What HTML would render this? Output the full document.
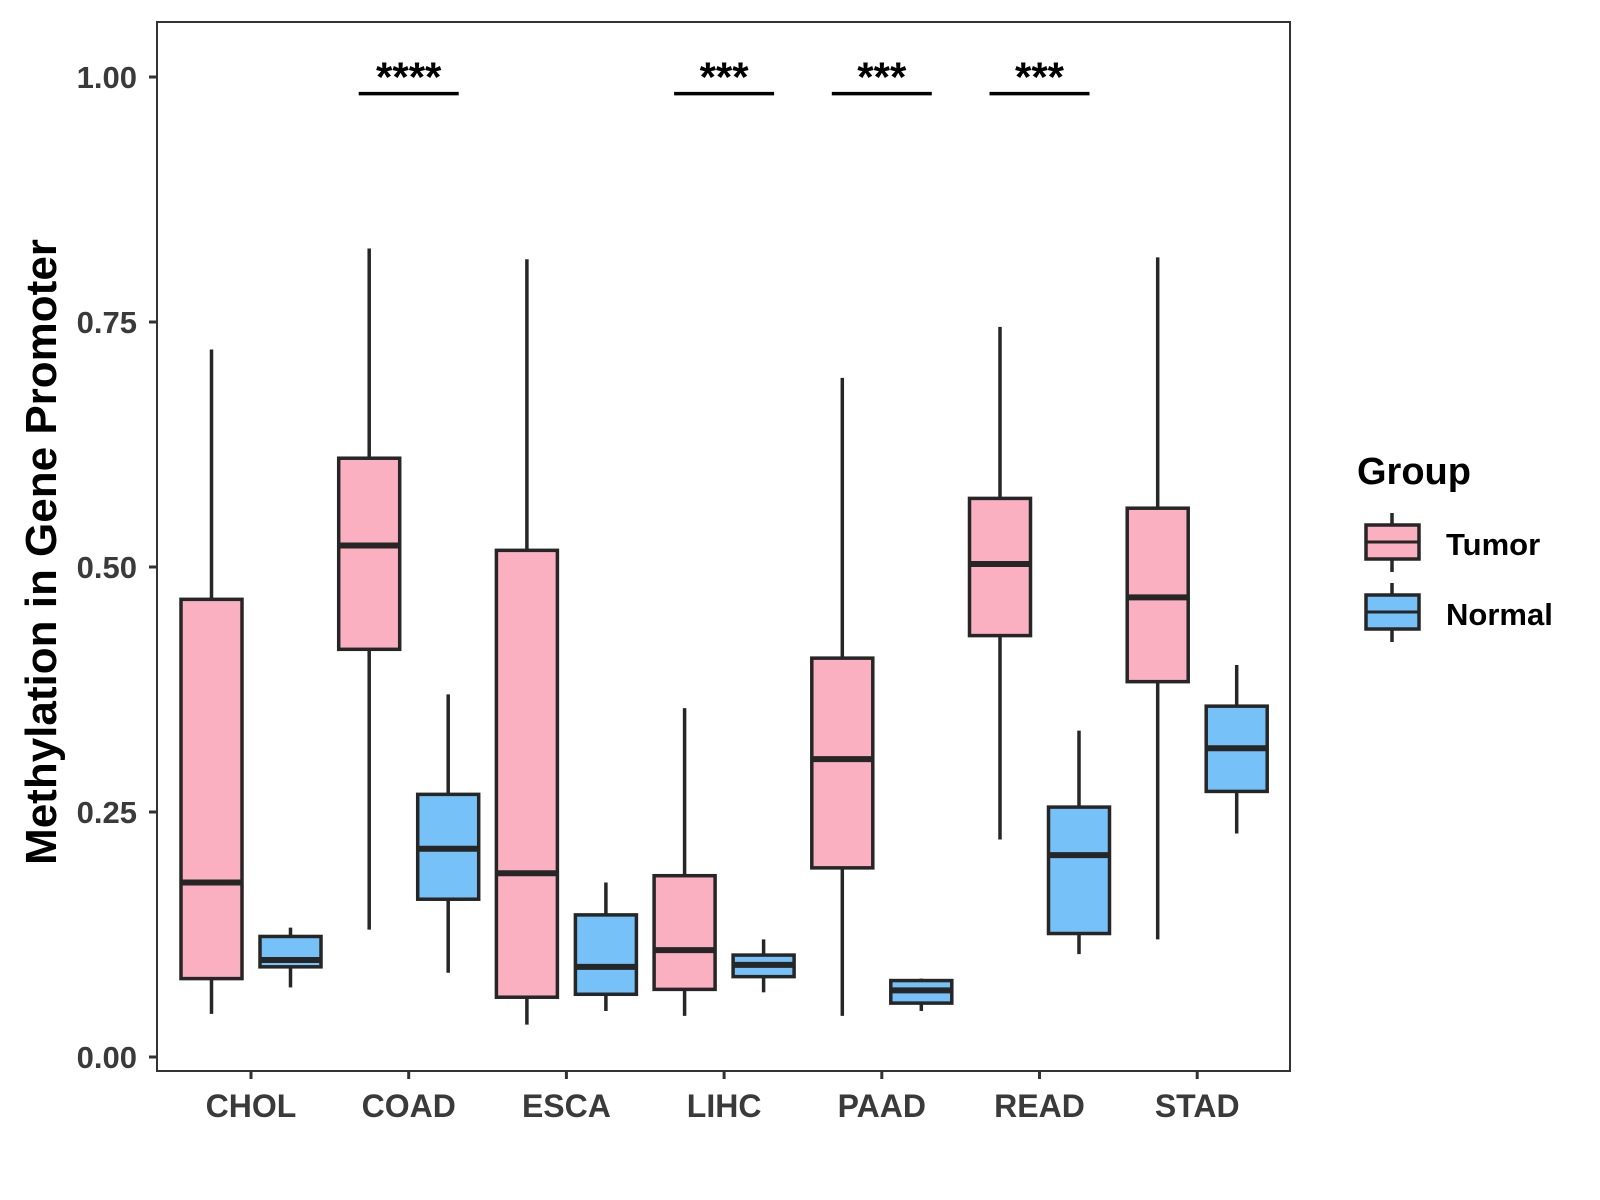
<!DOCTYPE html>
<html><head><meta charset="utf-8"><style>body{margin:0;background:#fff}svg{display:block}text{font-family:"Liberation Sans",Arial,sans-serif;font-weight:bold}</style></head>
<body>
<svg id="chart" width="1600" height="1200" viewBox="0 0 1600 1200" xmlns="http://www.w3.org/2000/svg">
<rect x="0" y="0" width="1600" height="1200" fill="#fff"/>
<rect x="157" y="22" width="1133" height="1049" fill="none" stroke="#333" stroke-width="2"/>
<g id="marks"></g>
<text transform="translate(56,552) rotate(-90)" text-anchor="middle" font-size="44" fill="#000">Methylation in Gene Promoter</text>
<g>
<text x="1357" y="484" font-size="38" fill="#000">Group</text>
<line x1="1392" y1="513" x2="1392" y2="572" stroke="#262626" stroke-width="3.5"/>
<rect x="1366" y="525" width="53" height="34" fill="#FBB0C1" stroke="#262626" stroke-width="3.5"/>
<line x1="1366" y1="542" x2="1419" y2="542" stroke="#262626" stroke-width="3"/>
<text x="1446" y="555" font-size="31" fill="#000">Tumor</text>
<line x1="1392" y1="583" x2="1392" y2="642" stroke="#262626" stroke-width="3.5"/>
<rect x="1366" y="595" width="53" height="34" fill="#76C1F8" stroke="#262626" stroke-width="3.5"/>
<line x1="1366" y1="612" x2="1419" y2="612" stroke="#262626" stroke-width="3"/>
<text x="1446" y="625" font-size="31" fill="#000">Normal</text>
</g>
</svg>
<script>
const categories = ["CHOL","COAD","ESCA","LIHC","PAAD","READ","STAD"];
// [lowWhisker, q1, median, q3, highWhisker]
const tumorStats = [
 [0.044,0.080,0.178,0.467,0.722],
 [0.130,0.416,0.522,0.611,0.825],
 [0.033,0.061,0.1875,0.517,0.814],
 [0.042,0.069,0.109,0.185,0.356],
 [0.042,0.193,0.304,0.407,0.693],
 [0.222,0.430,0.503,0.570,0.745],
 [0.120,0.383,0.469,0.560,0.816]
];
const normalStats = [
 [0.071,0.092,0.099,0.123,0.132],
 [0.086,0.161,0.2125,0.268,0.370],
 [0.047,0.064,0.092,0.145,0.178],
 [0.066,0.082,0.094,0.104,0.120],
 [0.047,0.055,0.068,0.078,0.080],
 [0.105,0.126,0.206,0.255,0.333],
 [0.228,0.271,0.315,0.358,0.400]
];
const sigCategories = ["COAD","LIHC","PAAD","READ"];
const sigLabels = ["****","***","***","***"];
const sigLevel = [0.983,0.983,0.983,0.983];
const yTicks = [0,0.25,0.5,0.75,1.0];
const yTickLabels = ["0.00","0.25","0.50","0.75","1.00"];

const NS="http://www.w3.org/2000/svg";
const g=document.getElementById('marks');
const y=v=>1057-v*980;
const x=i=>251+i*157.7;
const dodge=39.5, bw=61;
function mk(tag,attrs,parent){const e=document.createElementNS(NS,tag);for(const k in attrs)e.setAttribute(k,attrs[k]);(parent||g).appendChild(e);return e;}

yTicks.forEach((t,i)=>{
 const tk=mk('line',{x1:149,x2:157,y1:y(t),y2:y(t),stroke:'#333','stroke-width':3});
 
 
 const tl=mk('text',{x:137,y:y(t)+11,'text-anchor':'end','font-size':31,fill:'#3a3a3a'});
 tl.textContent=yTickLabels[i];
 
 
});
categories.forEach((c,i)=>{
 const tk=mk('line',{x1:x(i),x2:x(i),y1:1071,y2:1079,stroke:'#333','stroke-width':3});
 
 
 const tl=mk('text',{x:x(i),y:1117,'text-anchor':'middle','font-size':32,fill:'#3a3a3a'});
 tl.textContent=c;
 
 
});
function box(cx,s,fill,name){
 const grp=mk('g',{});
 
 
 mk('line',{x1:cx,x2:cx,y1:y(s[4]),y2:y(s[0]),stroke:'#262626','stroke-width':3.5},grp);
 mk('rect',{x:cx-bw/2,y:y(s[3]),width:bw,height:y(s[1])-y(s[3]),fill:fill,stroke:'#262626','stroke-width':3.5},grp);
 mk('line',{x1:cx-bw/2,x2:cx+bw/2,y1:y(s[2]),y2:y(s[2]),stroke:'#262626','stroke-width':6},grp);
}
categories.forEach((c,i)=>{
 box(x(i)-dodge,tumorStats[i],'#FBB0C1','box-tumor-'+c.toLowerCase());
 box(x(i)+dodge,normalStats[i],'#76C1F8','box-normal-'+c.toLowerCase());
});
sigCategories.forEach((c,j)=>{
 const i=categories.indexOf(c);
 const ln=mk('line',{x1:x(i)-50,x2:x(i)+50,y1:y(sigLevel[j]),y2:y(sigLevel[j]),stroke:'#000','stroke-width':3.5});
 
 
 const t=mk('text',{x:x(i),y:y(sigLevel[j])-2,'text-anchor':'middle','font-size':42,fill:'#000'});
 t.textContent=sigLabels[j];
 
 
});
</script>
</body></html>
